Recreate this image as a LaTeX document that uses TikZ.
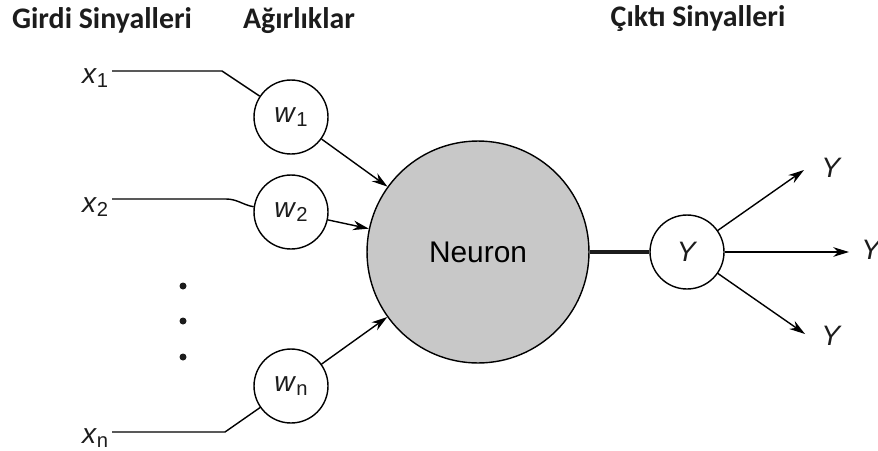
\documentclass[tikz,border=0pt]{standalone}
\usepackage{fontspec}
\setmainfont{Liberation Sans}
\newfontfamily\headfont{Carlito}
\usetikzlibrary{arrows.meta}

\definecolor{neurongray}{RGB}{200,200,200}
\definecolor{inkgray}{RGB}{28,28,28}

\newcommand{\varsub}[2]{\textit{#1}\raisebox{-0.3ex}{\fontsize{11.5}{11.5}\selectfont #2}}

\tikzset{
    head/.style={font=\headfont\bfseries\fontsize{17}{20}\selectfont, text=inkgray, anchor=base},
    sig/.style={font=\fontsize{16}{18}\selectfont, text=inkgray},
    weight/.style={circle, draw, line width=0.8pt, minimum size=1.48cm, inner sep=0pt, sig},
    neuron/.style={circle, draw, line width=0.8pt, fill=neurongray, minimum size=4.44cm, inner sep=0pt, font=\fontsize{17}{20}\selectfont},
    wire/.style={line width=0.8pt},
    feed/.style={wire, -{Stealth[length=9pt,width=5.5pt]}}
}

\begin{document}
\begin{tikzpicture}[x=0.02cm, y=-0.02cm]
    \useasboundingbox (0,0) rectangle (878,450);

    \node[head] (girdi) at (102,28) {Girdi Sinyalleri};
    \node[head] (agirlik) at (299,28) {Ağırlıklar};
    \node[head] (cikti) at (698,26) {Çıktı Sinyalleri};

    \coordinate (k1) at (222,71);
    \coordinate (k2) at (226,199);
    \coordinate (kn) at (225,432);

    \node[sig, anchor=base east, inner sep=2pt] (x1) at (112,83) {\varsub{x}{1}};
    \node[sig, anchor=base east, inner sep=2pt] (x2) at (112,212) {\varsub{x}{2}};
    \node[sig, anchor=base east, inner sep=2pt] (xn) at (112,443) {\varsub{x}{n}};

    \node[weight] (w1) at (291,117) {\varsub{w}{1}};
    \node[weight] (w2) at (291,212) {\varsub{w}{2}};
    \node[weight] (wn) at (291,386) {\varsub{w}{n}};

    \node[neuron] (neuron) at (478,252) {Neuron};
    \node[weight] (yout) at (687,252) {\textit{Y}};

    \coordinate (o1) at (804,170);
    \coordinate (o2) at (849,252);
    \coordinate (o3) at (805,334);

    \node[sig, anchor=base west, inner sep=0pt] (y1) at (821,177) {\textit{Y}};
    \node[sig, anchor=base west, inner sep=0pt] (y2) at (861,259) {\textit{Y}};
    \node[sig, anchor=base west, inner sep=0pt] (y3) at (821,345) {\textit{Y}};

    \foreach \d in {286,321,357}
        \fill[inkgray] (183,\d) circle (3.5);

    \draw[wire] (x1.east |- k1) -- (k1) -- (w1);
    \draw[wire] (x2.east |- k2) -- (k2) to[out=0, in=170] (w2.172);
    \draw[wire] (xn.east |- kn) -- (kn) -- (wn);

    \draw[feed] (w1) -- (neuron);
    \draw[feed] (w2) -- (neuron);
    \draw[feed] (wn) -- (neuron);

    \draw[line width=2pt, inkgray] (neuron) -- (yout);

    \draw[feed] (yout) -- (o1);
    \draw[feed] (yout) -- (o2);
    \draw[feed] (yout) -- (o3);
\end{tikzpicture}
\end{document}
